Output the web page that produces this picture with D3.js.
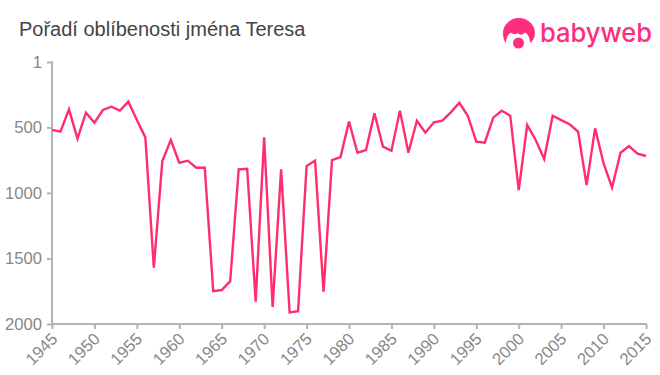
<!DOCTYPE html>
<html><head><meta charset="utf-8">
<script src="https://cdnjs.cloudflare.com/ajax/libs/d3/7.8.5/d3.min.js"></script>
<style>html,body{margin:0;padding:0;background:#fff}svg{display:block}</style></head>
<body><svg id="c" width="660" height="375"></svg>
<script>
const titleText = "Pořadí oblíbenosti jména Teresa";
const brandText = "babyweb";
const years = d3.range(1945, 2016);
const ranks = [519,533,362,586,388,464,367,342,372,304,444,576,1571,757,596,770,754,808,808,1749,1741,1673,820,815,1830,576,1869,820,1912,1902,795,754,1754,749,726,456,693,673,393,647,678,372,693,449,540,461,449,385,312,411,609,617,426,372,411,978,482,596,741,411,444,476,533,940,507,774,958,693,642,700,718];
const yearTicks = d3.range(1945, 2016, 5);
const rankTicks = [1,500,1000,1500,2000];
const lineColor = "#ff2d6b", axisColor = "#b3b3b3", labelColor = "#888888";

const svg = d3.select("#c");
const x = d3.scaleLinear().domain([1945,2015]).range([52,646]);
const y = d3.scaleLinear().domain([1,2000]).range([62,324]);
const font = "'Liberation Sans',Arial,sans-serif";

const gx = svg.append("g").attr("transform","translate(0,324)")
  .call(d3.axisBottom(x).tickValues(yearTicks).tickFormat(d3.format("d")).tickSize(5).tickSizeOuter(0));
const gy = svg.append("g").attr("transform","translate(52,0)")
  .call(d3.axisLeft(y).tickValues(rankTicks).tickSize(5).tickSizeOuter(0).tickFormat(d3.format("d")));
[gx,gy].forEach(g=>{
  g.selectAll("path").attr("stroke",axisColor).attr("stroke-width",2);
  g.selectAll("line").attr("stroke",axisColor).attr("stroke-width",2);
  g.selectAll("text").attr("fill",labelColor).style("font-family",font).style("font-size","16.6px");
});
gx.select("path").attr("d","M51,0H647");
gy.select("path").attr("d","M0,61V325");
gx.selectAll("text").attr("text-anchor","end").attr("dy",0).attr("y",0)
  .attr("transform","translate(6,16) rotate(-45)");
gy.selectAll("text").attr("x",-10);

svg.append("path").datum(ranks)
  .attr("fill","none").attr("stroke",lineColor).attr("stroke-width",2.4).attr("stroke-linejoin","miter")
  .attr("d",d3.line().x((d,i)=>x(years[i])).y(d=>y(d)));

svg.append("text").text(titleText).attr("x",19).attr("y",36)
  .attr("fill","#444").style("font-family",font).style("font-size","20px");

const logo = svg.append("g").attr("fill","#ff2d7e");
logo.append("path")
  .attr("d","M519,18C528,18 535,25 535,33C535,37 533,41 530,43C530,38 528,34 525,32.5C523,35 519,35.5 518,33C516,35 512,34 511,32.5C508,34 506,38 506,43C504,41 503,37 503,33C503,25 510,18 519,18Z");
logo.append("circle").attr("cx",518.5).attr("cy",43).attr("r",5.5);
svg.append("text").text(brandText).attr("x",540).attr("y",42)
  .attr("fill","#ff2d7e").style("font-family","Inter,'Noto Sans',sans-serif").style("font-size","26px").style("font-weight",500)
  .attr("textLength",112).attr("lengthAdjust","spacingAndGlyphs");
</script></body></html>
